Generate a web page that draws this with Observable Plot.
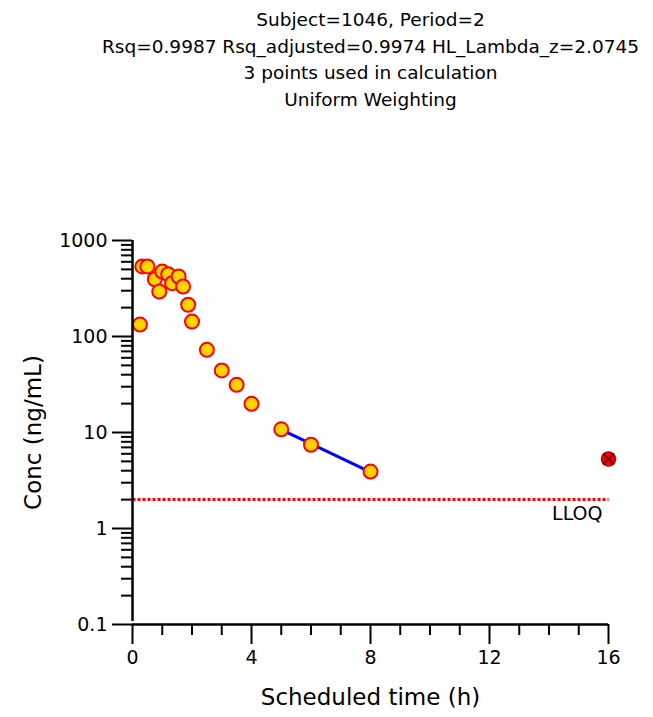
<!DOCTYPE html>
<html>
<head>
<meta charset="utf-8">
<script src="https://cdn.jsdelivr.net/npm/d3@7"></script>
<script src="https://cdn.jsdelivr.net/npm/@observablehq/plot@0.6"></script>
<style>
  html, body { margin: 0; padding: 0; background: #fff; }
  svg { font-family: "DejaVu Sans", sans-serif; }
</style>
</head>
<body>
<div id="chart"></div>
<script>
// Observed concentrations (used points)
const times = [0.25, 0.33, 0.5, 0.75, 0.9, 1.0, 1.2, 1.33, 1.55, 1.7, 1.87, 2.0, 2.5, 3.0, 3.5, 4.0, 5.0, 6.0, 8.0];
const concs = [133, 537, 537, 395, 294, 475, 446, 359, 422, 332, 214, 143, 72.7, 44.3, 31.4, 19.9, 10.8, 7.45, 3.92];
// Excluded point
const exclTimes = [16];
const exclConcs = [5.3];
// Regression (lambda_z) line
const fitTimes = [5, 8];
const fitConcs = [10.7, 3.86];
// LLOQ
const lloq = 2;
const lloqRange = [0, 16];
// Ticks
const xTicks = [0, 4, 8, 12, 16];
const xMinor = [1, 2, 3, 5, 6, 7, 9, 10, 11, 13, 14, 15];
const yTicks = [0.1, 1, 10, 100, 1000];
const yMinor = [0.1, 1, 10, 100].flatMap(d => [2,3,4,5,6,7,8,9].map(k => +(d * k).toPrecision(3)));
const titleLines = [
  "Subject=1046, Period=2",
  "Rsq=0.9987 Rsq_adjusted=0.9974 HL_Lambda_z=2.0745",
  "3 points used in calculation",
  "Uniform Weighting"
];

const pts = times.map((t, i) => ({t, c: concs[i]}));
const excl = exclTimes.map((t, i) => ({t, c: exclConcs[i]}));
const fit = fitTimes.map((t, i) => ({t, c: fitConcs[i]}));
const lloqLine = lloqRange.map(t => ({t, c: lloq}));
const titleY = [20, 47, 73, 100];

const chart = Plot.plot({
  width: 653,
  height: 717,
  marginLeft: 132,
  marginRight: 45,
  marginTop: 240,
  marginBottom: 93,
  style: {fontFamily: "DejaVu Sans, sans-serif", background: "#fff", overflow: "visible"},
  x: {domain: [0, 16], axis: null},
  y: {type: "log", domain: [0.1, 1000], axis: null},
  marks: [
    Plot.axisX(xMinor, {tickSize: 11, tickFormat: () => "", stroke: "black", strokeWidth: 2, label: null}),
    Plot.axisX(xTicks, {tickSize: 20, tickPadding: 6, fontSize: 19, stroke: "black", strokeWidth: 2, fill: "black", label: null}),
    Plot.axisY(yMinor, {tickSize: 11, tickFormat: () => "", stroke: "black", strokeWidth: 2, label: null}),
    Plot.axisY(yTicks, {tickSize: 20, tickPadding: 5, fontSize: 19, stroke: "black", strokeWidth: 2, fill: "black", label: null,
      tickFormat: d => d < 1 ? "0.1" : String(d)}),
    // LLOQ dotted line
    Plot.line(lloqLine, {x: "t", y: "c", stroke: "red", strokeWidth: 3, strokeDasharray: "3,2", strokeLinecap: "butt"}),
    Plot.text(["LLOQ"], {x: () => 16, y: () => lloq, text: d => d, textAnchor: "end", dx: -6, dy: 14, fontSize: 19, fill: "black"}),
    // regression line
    Plot.line(fit, {x: "t", y: "c", stroke: "blue", strokeWidth: 3}),
    // observed points
    Plot.dot(pts, {x: "t", y: "c", r: 7, fill: "#FFD400", stroke: "red", strokeWidth: 2}),
    // excluded point
    Plot.dot(excl, {x: "t", y: "c", r: 7, fill: "red", stroke: "#b00000", strokeWidth: 1.5}),
    Plot.dot(excl, {x: "t", y: "c", r: 5, symbol: "times", stroke: "#600", strokeWidth: 2}),
    // axis lines
    Plot.ruleX([0], {x: d => d, y1: () => 0.1, y2: () => 1000, stroke: "black", strokeWidth: 2.5, insetTop: -3}),
    Plot.ruleY([0.1], {y: d => d, x1: () => 0, x2: () => 16, stroke: "black", strokeWidth: 2.5}),
    // axis labels
    Plot.text(["Conc (ng/mL)"], {frameAnchor: "left", textAnchor: "middle", text: d => d, rotate: -90, dx: -99, fontSize: 23, fill: "black"}),
    Plot.text(["Scheduled time (h)"], {frameAnchor: "bottom", text: d => d, dy: 80, fontSize: 23, fill: "black"}),
    // title lines
    ...titleLines.map((line, i) => Plot.text([line], {frameAnchor: "top", text: d => d, dy: titleY[i] - 240, fontSize: 18.5, fill: "black", lineAnchor: "middle"}))
  ]
});
document.getElementById("chart").appendChild(chart);
</script>
</body>
</html>
